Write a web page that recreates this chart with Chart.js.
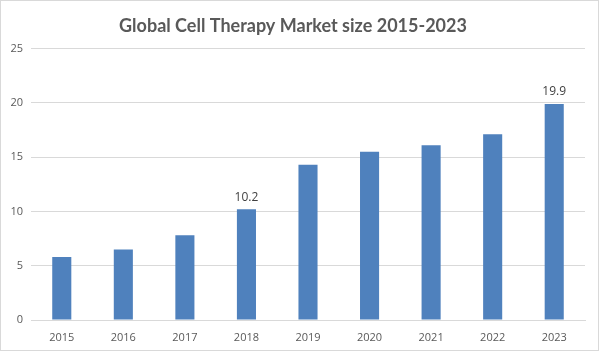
<!DOCTYPE html>
<html>
<head>
<meta charset="utf-8">
<script src="https://cdn.jsdelivr.net/npm/chart.js@4/dist/chart.umd.min.js"></script>
<style>
  body { margin: 0; background: #fff; }
  #wrap { width: 597px; height: 349px; border: 1px solid #d9d9d9; }
</style>
</head>
<body>
<div id="wrap"><canvas id="chart" width="597" height="349"></canvas></div>
<script>
const years = ["2015", "2016", "2017", "2018", "2019", "2020", "2021", "2022", "2023"];
const marketSize = [5.8, 6.5, 7.8, 10.2, 14.3, 15.5, 16.1, 17.1, 19.9];
const labelledYears = ["2018", "2023"];
const yTicks = [0, 5, 10, 15, 20, 25];

// draw value labels only over selected bars
const valueLabels = {
  id: "valueLabels",
  afterDatasetsDraw(chart) {
    const ctx = chart.ctx;
    const meta = chart.getDatasetMeta(0);
    ctx.save();
    ctx.font = "12px 'Open Sans', sans-serif";
    ctx.fillStyle = "#404040";
    ctx.textAlign = "center";
    ctx.textBaseline = "bottom";
    meta.data.forEach((bar, i) => {
      if (!labelledYears.includes(years[i])) return;
      ctx.fillText(marketSize[i].toFixed(1), bar.x, bar.y - 6);
    });
    ctx.restore();
  },
};

new Chart(document.getElementById("chart"), {
  type: "bar",
  data: {
    labels: years,
    datasets: [
      {
        data: marketSize,
        backgroundColor: "#4f81bd",
        barPercentage: 0.31,
        categoryPercentage: 1,
      },
    ],
  },
  options: {
    responsive: false,
    animation: false,
    layout: { padding: { left: 0, right: 13, bottom: 0 } },
    plugins: {
      legend: { display: false },
      tooltip: { enabled: false },
      title: {
        display: true,
        text: "Global Cell Therapy Market size 2015-2023",
        color: "#595959",
        font: { family: "Lato", size: 18, weight: "bold" },
        padding: { top: 14, bottom: 12 },
      },
    },
    scales: {
      x: {
        grid: { display: false },
        border: { color: "#d9d9d9" },
        ticks: { color: "#595959", font: { family: "'Open Sans', sans-serif", size: 11 } },
        afterFit(scale) { scale.height = 30; },
      },
      y: {
        min: 0,
        max: 25,
        afterBuildTicks(scale) { scale.ticks = yTicks.map((v) => ({ value: v })); },
        grid: { color: "#d9d9d9", drawTicks: false },
        border: { display: false },
        ticks: { color: "#595959", padding: 8, font: { family: "'Open Sans', sans-serif", size: 11 } },
        afterFit(scale) { scale.width = 30; },
      },
    },
  },
  plugins: [valueLabels],
});
</script>
</body>
</html>
